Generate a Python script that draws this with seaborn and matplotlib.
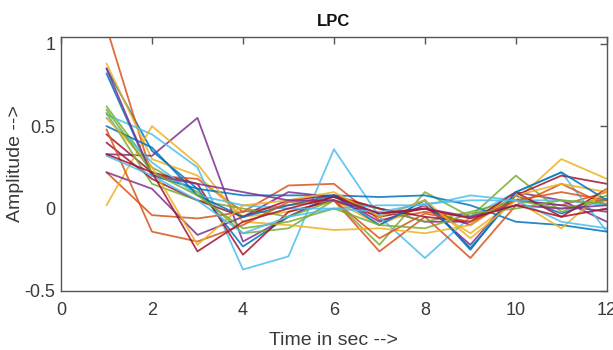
# LPC coefficients per frame, MATLAB-style line plot

import pandas as pd
import numpy as np
import seaborn as sns
import matplotlib.pyplot as plt

coef_idx = list(range(1, 13))

# one list per analysis frame (coefficient value at index 1..12)
f01 = [0.85, 0.35, 0.12, -0.23, -0.05, 0.08, -0.05, 0.05, -0.24, 0.08, -0.03, 0.06]
f02 = [1.10, 0.20, 0.18, -0.02, 0.14, 0.15, -0.07, -0.02, -0.05, 0.05, 0.02, 0.10]
f03 = [0.88, 0.30, 0.20, -0.05, -0.02, 0.05, -0.10, 0.02, -0.15, 0.05, 0.30, 0.18]
f04 = [0.33, 0.32, 0.55, -0.20, -0.05, 0.08, -0.08, 0.02, -0.22, 0.10, 0.05, -0.08]
f05 = [0.62, 0.25, 0.10, -0.15, -0.12, 0.05, -0.22, 0.10, -0.05, 0.20, -0.02, 0.08]
f06 = [0.57, 0.45, 0.25, -0.37, -0.29, 0.36, -0.05, -0.30, -0.05, 0.10, 0.22, -0.14]
f07 = [0.45, 0.22, 0.15, -0.28, -0.02, 0.05, -0.05, 0.00, -0.10, 0.08, 0.20, 0.15]
f08 = [0.82, 0.20, 0.12, 0.08, 0.08, 0.08, 0.07, 0.08, 0.02, -0.08, -0.10, -0.14]
f09 = [0.22, -0.04, -0.06, -0.02, 0.02, 0.05, -0.26, -0.05, -0.30, 0.02, 0.15, 0.02]
f10 = [0.02, 0.50, 0.27, -0.08, -0.10, -0.13, -0.12, -0.15, -0.10, 0.08, 0.15, 0.10]
f11 = [0.22, 0.12, -0.16, -0.05, 0.10, 0.07, 0.00, -0.08, -0.08, 0.05, 0.02, -0.02]
f12 = [0.58, 0.15, 0.05, 0.00, -0.05, 0.05, 0.00, -0.08, -0.02, 0.05, 0.00, 0.05]
f13 = [0.55, 0.28, 0.08, 0.02, 0.00, 0.00, 0.02, 0.02, 0.08, 0.05, 0.05, 0.02]
f14 = [0.40, 0.18, 0.05, -0.05, 0.05, 0.08, 0.00, -0.05, -0.08, 0.10, -0.05, 0.12]
f15 = [0.50, 0.37, 0.08, -0.05, 0.02, 0.08, -0.10, 0.05, -0.25, 0.10, 0.22, 0.05]
f16 = [0.48, -0.14, -0.20, -0.10, 0.04, 0.05, -0.18, -0.03, -0.08, 0.05, 0.10, 0.05]
f17 = [0.55, 0.25, -0.22, 0.02, 0.05, 0.10, -0.05, 0.05, -0.18, 0.05, -0.12, 0.12]
f18 = [0.85, 0.20, 0.15, 0.10, 0.05, 0.05, -0.03, 0.00, -0.05, 0.02, 0.00, 0.02]
f19 = [0.60, 0.22, 0.08, -0.12, -0.08, 0.00, -0.10, -0.12, -0.03, 0.00, 0.05, 0.03]
f20 = [0.32, 0.20, 0.05, -0.15, -0.05, 0.00, -0.02, 0.03, 0.05, 0.05, -0.08, -0.12]
f21 = [0.33, 0.22, -0.26, -0.08, 0.00, 0.07, -0.03, 0.00, -0.06, 0.02, -0.05, 0.00]

frames = [f01, f02, f03, f04, f05, f06, f07, f08, f09, f10, f11,
          f12, f13, f14, f15, f16, f17, f18, f19, f20, f21]

# matlab default color order
matlab = ['#0072BD', '#D95319', '#EDB120', '#7E2F8E', '#77AC30', '#4DBEEE', '#A2142F']

df = pd.concat([pd.DataFrame({'t': coef_idx, 'amp': f, 'frame': i})
                for i, f in enumerate(frames)], ignore_index=True)

sns.set_style('white')
plt.rcParams['font.family'] = ['Liberation Sans Narrow', 'Liberation Sans', 'DejaVu Sans']

fig = plt.figure(figsize=(6.13, 3.5), dpi=100)
ax = fig.add_axes([0.0995, 0.1686, 0.8905, 0.7254])

pal = [matlab[i % 7] for i in range(len(frames))]
sns.lineplot(data=df, x='t', y='amp', hue='frame', palette=pal,
             legend=False, linewidth=1.3, alpha=0.85, ax=ax)

ax.set_xlim(0, 12)
ax.set_ylim(-0.5, 1.04)
ax.set_xticks(range(0, 13, 2))
ax.set_yticks([-0.5, 0, 0.5, 1])
ax.set_yticklabels(['-0.5', '0', '0.5', '1'])

gray = '#3a3a3a'
for s in ax.spines.values():
    s.set_color('#555555')
    s.set_linewidth(1.0)
ax.tick_params(direction='in', length=5, width=1, color='#555555',
               top=True, right=True, labelsize=13, labelcolor=gray)
ax.tick_params(axis='x', pad=8)
ax.tick_params(axis='y', pad=4)

ax.set_title('LPC', fontsize=12, fontweight='bold', color='#111111', pad=8)
ax.set_xlabel('Time in sec -->', fontsize=14, color=gray, labelpad=9)
ax.set_ylabel('Amplitude -->', fontsize=14, color=gray,
              family=['Liberation Sans', 'DejaVu Sans'])
ax.yaxis.set_label_coords(-0.068, 0.5)

fig.savefig('out.png', dpi=100)
